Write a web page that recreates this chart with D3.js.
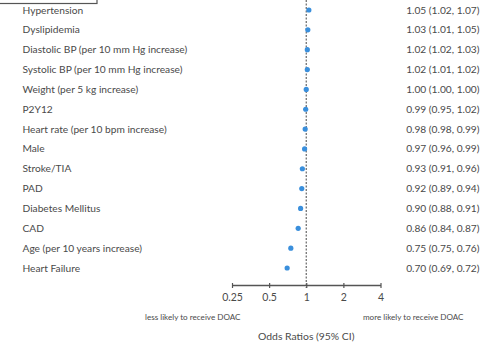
<!DOCTYPE html>
<html>
<head>
<meta charset="utf-8">
<script src="https://cdn.jsdelivr.net/npm/d3@7"></script>
<style>
  html, body { margin: 0; padding: 0; background: #fff; }
  svg { display: block; }
  text { font-family: Lato, "Open Sans", sans-serif; fill: #4a4a4a; }
</style>
</head>
<body>
<svg id="chart" width="493" height="349"></svg>
<script>
// Predictors of receiving a DOAC, odds ratios with 95% confidence intervals
const labels = [
  "Hypertension", "Dyslipidemia", "Diastolic BP (per 10 mm Hg increase)",
  "Systolic BP (per 10 mm Hg increase)", "Weight (per 5 kg increase)", "P2Y12",
  "Heart rate (per 10 bpm increase)", "Male", "Stroke/TIA", "PAD",
  "Diabetes Mellitus", "CAD", "Age (per 10 years increase)", "Heart Failure"
];
const oddsRatio = [1.05, 1.03, 1.02, 1.02, 1.00, 0.99, 0.98, 0.97, 0.93, 0.92, 0.90, 0.86, 0.75, 0.70];
const ciLow     = [1.02, 1.01, 1.02, 1.01, 1.00, 0.95, 0.98, 0.96, 0.91, 0.89, 0.88, 0.84, 0.75, 0.69];
const ciHigh    = [1.07, 1.05, 1.03, 1.02, 1.00, 1.02, 0.99, 0.99, 0.96, 0.94, 0.91, 0.87, 0.76, 0.72];
const tickValues = [0.25, 0.5, 1, 2, 4];
const tickLabels = ["0.25", "0.5", "1", "2", "4"];

const svg = d3.select("#chart");
const fmt = d3.format(".2f");

const x = d3.scaleLog().base(2).domain([0.25, 4]).range([232, 380.5]);
const y = d3.scalePoint().domain(labels).range([10, 268]);

// frame edge peeking in at the top left
svg.append("rect")
  .attr("x", -10).attr("y", -10).attr("width", 107).attr("height", 13.5)
  .attr("fill", "none").attr("stroke", "#555").attr("stroke-width", 1.2);

// reference line at OR = 1
svg.append("line")
  .attr("x1", x(1)).attr("x2", x(1))
  .attr("y1", 0).attr("y2", 288)
  .attr("stroke", "#666").attr("stroke-width", 1.2)
  .attr("stroke-dasharray", "2,1.5");

// row labels
svg.append("g").selectAll("text").data(labels).join("text")
  .attr("x", 22.5).attr("y", d => y(d))
  .attr("dy", "0.35em")
  .attr("font-size", "10.2px")
  .text(d => d);

// estimate text
svg.append("g").selectAll("text").data(labels).join("text")
  .attr("x", 479.5).attr("y", d => y(d))
  .attr("dy", "0.35em")
  .attr("text-anchor", "end")
  .attr("font-size", "10.2px")
  .text((d, i) => `${fmt(oddsRatio[i])} (${fmt(ciLow[i])}, ${fmt(ciHigh[i])})`);

// confidence intervals and point estimates
const marks = svg.append("g");
marks.selectAll("line").data(labels).join("line")
  .attr("x1", (d, i) => x(ciLow[i])).attr("x2", (d, i) => x(ciHigh[i]))
  .attr("y1", d => y(d)).attr("y2", d => y(d))
  .attr("stroke", "#3a8fdc").attr("stroke-width", 1.2);
marks.selectAll("circle").data(labels).join("circle")
  .attr("cx", (d, i) => x(oddsRatio[i]))
  .attr("cy", d => y(d))
  .attr("r", 2.6)
  .attr("fill", "#3a8fdc");

// x axis, ticks crossing the baseline
const axis = d3.axisBottom(x)
  .tickValues(tickValues)
  .tickFormat((d, i) => tickLabels[i])
  .tickSize(3)
  .tickSizeOuter(0);
const gAxis = svg.append("g").attr("transform", "translate(0,285)").call(axis);
gAxis.select(".domain").attr("stroke", "#555").attr("stroke-width", 1.3);
gAxis.selectAll(".tick line")
  .attr("y1", -2).attr("y2", 3)
  .attr("stroke", "#555").attr("stroke-width", 1.2);
gAxis.selectAll(".tick text")
  .attr("y", 12.5).attr("dy", "0.35em")
  .attr("font-size", "10.5px")
  .attr("font-family", "Lato, 'Open Sans', sans-serif")
  .attr("fill", "#4a4a4a");

// direction notes and axis title
svg.append("text")
  .attr("x", 145).attr("y", 317).attr("dy", "0.35em")
  .attr("font-size", "8.1px")
  .text("less likely to receive DOAC");
svg.append("text")
  .attr("x", 463.5).attr("y", 317).attr("dy", "0.35em")
  .attr("text-anchor", "end")
  .attr("font-size", "8.1px")
  .text("more likely to receive DOAC");
svg.append("text")
  .attr("x", x(1)).attr("y", 336).attr("dy", "0.35em")
  .attr("text-anchor", "middle")
  .attr("font-size", "10.4px")
  .text("Odds Ratios (95% CI)");
</script>
</body>
</html>
